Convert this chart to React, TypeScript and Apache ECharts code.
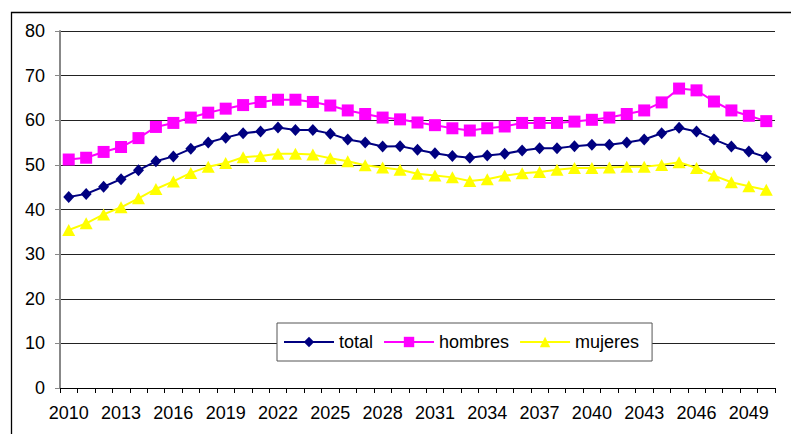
import React, { useEffect, useRef } from "react";
import * as echarts from "echarts";

const years: string[] = [];
for (let y = 2010; y <= 2050; y++) years.push(String(y));

const total = [
  42.8, 43.5, 45.1, 46.8, 48.8, 50.8, 51.9, 53.6, 55.0, 56.1,
  57.1, 57.5, 58.4, 57.8, 57.8, 57.0, 55.7, 55.0, 54.1, 54.2,
  53.4, 52.6, 52.0, 51.6, 52.1, 52.5, 53.2, 53.7, 53.7, 54.2,
  54.5, 54.5, 55.0, 55.7, 57.1, 58.3, 57.5, 55.7, 54.1, 53.0,
  51.7,
];
const hombres = [
  51.2, 51.6, 52.9, 54.0, 56.0, 58.5, 59.4, 60.6, 61.7, 62.6,
  63.4, 64.1, 64.6, 64.6, 64.1, 63.3, 62.2, 61.4, 60.6, 60.2,
  59.5, 58.9, 58.2, 57.7, 58.2, 58.6, 59.4, 59.4, 59.4, 59.7,
  60.1, 60.6, 61.4, 62.2, 64.0, 67.1, 66.7, 64.2, 62.2, 61.0,
  59.8,
];
const mujeres = [
  35.4, 36.9, 38.9, 40.5, 42.5, 44.6, 46.3, 48.2, 49.6, 50.4,
  51.7, 52.0, 52.5, 52.5, 52.3, 51.5, 50.8, 49.9, 49.4, 48.9,
  48.0, 47.6, 47.2, 46.4, 46.8, 47.6, 48.1, 48.4, 48.9, 49.3,
  49.3, 49.4, 49.6, 49.6, 50.0, 50.6, 49.3, 47.6, 46.1, 45.2,
  44.4,
];

const FONT = "Liberation Sans, Arial, sans-serif";

export default function App() {
  const ref = useRef<HTMLDivElement>(null);
  useEffect(() => {
    if (!ref.current) return;
    const chart = echarts.init(ref.current, undefined, { renderer: "svg" });
    chart.setOption({
      animation: false,
      backgroundColor: "#fff",
      textStyle: { fontFamily: FONT },
      grid: { left: 60, right: 16, top: 31, bottom: 46, containLabel: false },
      graphic: [
        {
          type: "rect",
          shape: { x: 11.5, y: 12.5, width: 800, height: 440 },
          style: { fill: "none", stroke: "#000", lineWidth: 1.3 },
          silent: true,
          z: -1,
        },
      ],
      legend: {
        left: 277,
        top: 323,
        orient: "horizontal",
        itemWidth: 50,
        itemHeight: 13,
        itemGap: 10,
        padding: [10, 13, 10, 6],
        borderColor: "#555",
        borderWidth: 1,
        backgroundColor: "#fff",
        textStyle: { fontSize: 18, color: "#000", fontFamily: FONT },
        data: ["total", "hombres", "mujeres"],
      },
      xAxis: {
        type: "category",
        data: years,
        boundaryGap: true,
        axisLine: { lineStyle: { color: "#000", width: 1 } },
        axisTick: { show: true, interval: 0, length: 5, lineStyle: { color: "#000" } },
        axisLabel: {
          interval: 2,
          fontSize: 18,
          color: "#000",
          margin: 16,
          fontFamily: FONT,
        },
        splitLine: { show: false },
      },
      yAxis: {
        type: "value",
        min: 0,
        max: 80,
        interval: 10,
        axisLine: { show: true, lineStyle: { color: "#888", width: 2 } },
        axisTick: { show: true, length: 5, lineStyle: { color: "#888" } },
        axisLabel: { fontSize: 18, color: "#000", margin: 15, fontFamily: FONT },
        splitLine: { show: true, lineStyle: { color: "#222", width: 1 } },
      },
      series: [
        {
          name: "total",
          type: "line",
          data: total,
          symbol: "diamond",
          symbolSize: [11, 12],
          showAllSymbol: true,
          itemStyle: { color: "#000080" },
          lineStyle: { color: "#000080", width: 2 },
          z: 3,
        },
        {
          name: "hombres",
          type: "line",
          data: hombres,
          symbol: "rect",
          symbolSize: 12,
          showAllSymbol: true,
          itemStyle: { color: "#FF00FF" },
          lineStyle: { color: "#FF00FF", width: 2 },
          z: 2,
        },
        {
          name: "mujeres",
          type: "line",
          data: mujeres,
          symbol: "triangle",
          symbolSize: [13, 12],
          showAllSymbol: true,
          itemStyle: { color: "#FFFF00" },
          lineStyle: { color: "#FFFF00", width: 2 },
          z: 2,
        },
      ],
    });
    return () => chart.dispose();
  }, []);
  return (
    <div
      ref={ref}
      style={{ position: "absolute", left: 0, top: 0, width: 791, height: 434 }}
    />
  );
}
